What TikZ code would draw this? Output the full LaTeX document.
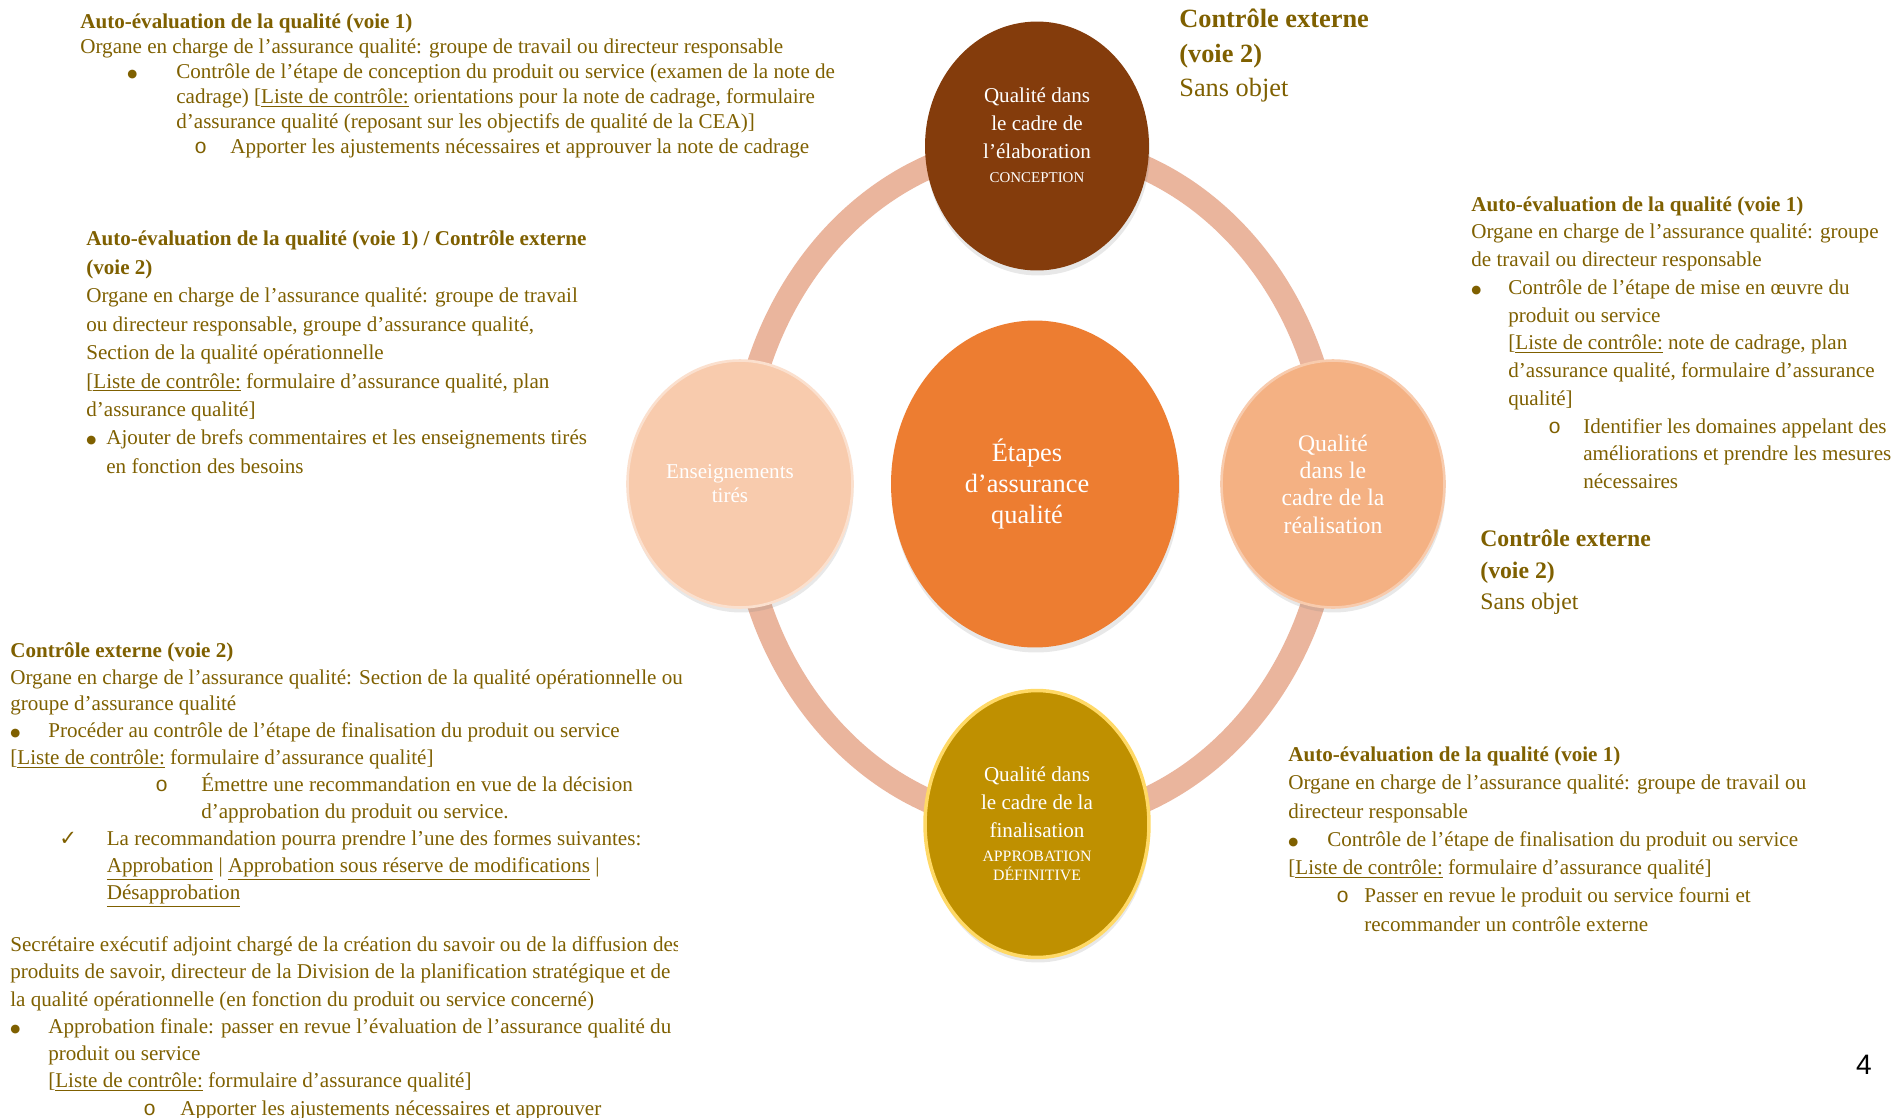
\documentclass[tikz,border=0pt]{standalone}
\usepackage{fontspec}
\setmainfont{Liberation Serif}
\setsansfont{Liberation Sans}
\setmonofont{Liberation Mono}
\newfontfamily\tickfont{DejaVu Sans}
\usetikzlibrary{shapes.geometric,shadows}

\definecolor{qagold}{RGB}{127,96,0}
\definecolor{ringpeach}{RGB}{234,181,157}
\definecolor{stagebrown}{RGB}{132,60,12}
\definecolor{stageorange}{RGB}{237,125,49}
\definecolor{stagepeach}{RGB}{244,177,131}
\definecolor{stagelight}{RGB}{248,203,173}
\definecolor{stagegold}{RGB}{191,144,0}
\definecolor{goldrim}{RGB}{255,217,102}

\newcommand{\dotitem}[2]{\hspace*{#1}\makebox[#2][l]{\raisebox{0.6pt}{\tickfont\fontsize{6.5}{7}\selectfont ●}}}
\newcommand{\ringitem}[2]{\hspace*{#1}\makebox[#2][l]{\ttfamily o}}
\newcommand{\tickitem}[2]{\hspace*{#1}\makebox[#2][l]{\tickfont ✓}}
\newcommand{\capsline}{\fontsize{8.5}{10}\selectfont}

\tikzset{
  txt/.style={anchor=north west, inner sep=0pt, align=left, text=qagold, font=\fontsize{12}{#1}\selectfont},
  txt/.default=15pt,
  stage/.style={ellipse, inner sep=0pt, align=center, text=white,
    drop shadow={shadow xshift=0.02cm, shadow yshift=-0.1cm, opacity=0.18}},
  stagetext/.style={inner sep=0pt, align=center, text=white},
  loop/.style={draw=ringpeach, line width=0.48cm}
}

\begin{document}
\begin{tikzpicture}[x=0.02cm, y=-0.02cm]
    \fill[white] (0,0) rectangle (1898,1117);
    \useasboundingbox (0,0) rectangle (1898,1117);

    % Ring linking the stages
    \coordinate (hub) at (1036,484);
    \draw[loop] (hub) ellipse [x radius=5.92cm, y radius=6.8cm];

    % Stages
    \node[stage, fill=stagebrown, minimum width=4.48cm, minimum height=4.98cm] (design) at (1037,146) {};
    \node[stagetext, font=\fontsize{12}{16}\selectfont] (designtext) at (1037,135) {Qualité dans\\le cadre de\\l’élaboration\\[-2.5pt]{\capsline CONCEPTION}};
    \node[stage, fill=stageorange, minimum width=5.76cm, minimum height=6.54cm] (core) at (1035,484) {};
    \node[stagetext, font=\fontsize{15}{17.6}\selectfont] (coretext) at (1027,484) {Étapes\\d’assurance\\qualité};
    \node[stage, fill=stagepeach, draw=stagelight, line width=1.5pt, minimum width=4.46cm, minimum height=4.94cm, font=\fontsize{13.5}{15.6}\selectfont] (delivery) at (1333,484) {Qualité\\dans le\\cadre de la\\réalisation};
    \node[stage, fill=stagelight, draw=stagelight!60, line width=1.5pt, minimum width=4.5cm, minimum height=4.94cm] (lessons) at (740,484) {};
    \node[stagetext, font=\fontsize{12}{13.7}\selectfont] (lessonstext) at (730,484) {Enseignements\\tirés};
    \node[stage, fill=stagegold, draw=goldrim, line width=2pt, minimum width=4.48cm, minimum height=5.34cm, font=\fontsize{12}{16}\selectfont] (approval) at (1037,824) {Qualité dans\\le cadre de la\\finalisation\\[-2.3pt]{\fontsize{9}{11}\selectfont APPROBATION}\\[-5.2pt]{\fontsize{9}{11}\selectfont DÉFINITIVE}};

    % Design stage notes
    \node[txt=14.2pt] (selfdesign) at (80,13.5) {\textbf{Auto-évaluation de la qualité (voie 1)}\\
      Organe en charge de l’assurance qualité: groupe de travail ou directeur responsable\\
      \dotitem{0.94cm}{0.98cm}Contrôle de l’étape de conception du produit ou service (examen de la note de\\
      \hspace*{1.92cm}cadrage) [\underline{Liste de contrôle:} orientations pour la note de cadrage, formulaire\\
      \hspace*{1.92cm}d’assurance qualité (reposant sur les objectifs de qualité de la CEA)]\\
      \ringitem{2.28cm}{0.72cm}Apporter les ajustements nécessaires et approuver la note de cadrage};
    \node[txt, font=\fontsize{15}{19.7}\selectfont] (extdesign) at (1179,8.5) {\textbf{Contrôle externe}\\\textbf{(voie 2)}\\Sans objet};

    % Lessons notes
    \node[txt=16.2pt] (lessonsnote) at (86,230.5) {\textbf{Auto-évaluation de la qualité (voie 1) / Contrôle externe}\\
      \textbf{(voie 2)}\\
      Organe en charge de l’assurance qualité: groupe de travail\\
      ou directeur responsable, groupe d’assurance qualité,\\
      Section de la qualité opérationnelle\\{}[\underline{Liste de contrôle:} formulaire d’assurance qualité, plan\\
      d’assurance qualité]\\
      \dotitem{0cm}{0.4cm}Ajouter de brefs commentaires et les enseignements tirés\\
      \hspace*{0.4cm}en fonction des besoins};

    % Delivery stage notes
    \node[txt=15.8pt] (selfdelivery) at (1471,196) {\textbf{Auto-évaluation de la qualité (voie 1)}\\
      Organe en charge de l’assurance qualité: groupe\\
      de travail ou directeur responsable\\
      \dotitem{0cm}{0.74cm}Contrôle de l’étape de mise en œuvre du\\
      \hspace*{0.74cm}produit ou service\\
      \hspace*{0.74cm}[\underline{Liste de contrôle:} note de cadrage, plan\\
      \hspace*{0.74cm}d’assurance qualité, formulaire d’assurance\\
      \hspace*{0.74cm}qualité]\\
      \ringitem{1.54cm}{0.7cm}Identifier les domaines appelant des\\
      \hspace*{2.24cm}améliorations et prendre les mesures\\
      \hspace*{2.24cm}nécessaires};
    \node[txt, font=\fontsize{13.5}{18}\selectfont] (extdelivery) at (1480,529.5) {\textbf{Contrôle externe}\\\textbf{(voie 2)}\\Sans objet};

    % Finalisation stage notes
    \node[txt=16.1pt] (selffinal) at (1288,746.5) {\textbf{Auto-évaluation de la qualité (voie 1)}\\
      Organe en charge de l’assurance qualité: groupe de travail ou\\
      directeur responsable\\
      \dotitem{0cm}{0.78cm}Contrôle de l’étape de finalisation du produit ou service\\{}[\underline{Liste de contrôle:} formulaire d’assurance qualité]\\
      \ringitem{0.96cm}{0.56cm}Passer en revue le produit ou service fourni et\\
      \hspace*{1.52cm}recommander un contrôle externe};
    \node[txt=15.3pt] (extfinal) at (10,642) {\textbf{Contrôle externe (voie 2)}\\
      Organe en charge de l’assurance qualité: Section de la qualité opérationnelle ou\\
      groupe d’assurance qualité\\
      \dotitem{0cm}{0.76cm}Procéder au contrôle de l’étape de finalisation du produit ou service\\{}[\underline{Liste de contrôle:} formulaire d’assurance qualité]\\
      \ringitem{2.9cm}{0.92cm}Émettre une recommandation en vue de la décision\\
      \hspace*{3.82cm}d’approbation du produit ou service.\\
      \tickitem{0.98cm}{0.95cm}La recommandation pourra prendre l’une des formes suivantes:\\
      \hspace*{1.93cm}\underline{Approbation} | \underline{Approbation sous réserve de modifications} |\\
      \hspace*{1.93cm}\underline{Désapprobation}};

    % Final approval notes (text box cut on the right)
    \begin{scope}
      \clip (0,925) -| (677,960) -| (1898,1117) -| cycle;
      \node[txt=15.5pt] (finalsign) at (10,936.5) {Secrétaire exécutif adjoint chargé de la création du savoir ou de la diffusion des\\
        produits de savoir, directeur de la Division de la planification stratégique et de\\
        la qualité opérationnelle (en fonction du produit ou service concerné)\\
        \dotitem{0cm}{0.76cm}Approbation finale: passer en revue l’évaluation de l’assurance qualité du\\
        \hspace*{0.76cm}produit ou service\\
        \hspace*{0.76cm}[\underline{Liste de contrôle:} formulaire d’assurance qualité]\\
        \ringitem{2.66cm}{0.74cm}Apporter les ajustements nécessaires et approuver};
    \end{scope}

    % Page number
    \node[font=\sffamily\fontsize{16}{16}\selectfont] (pagenum) at (1864,1065) {4};
\end{tikzpicture}
\end{document}
